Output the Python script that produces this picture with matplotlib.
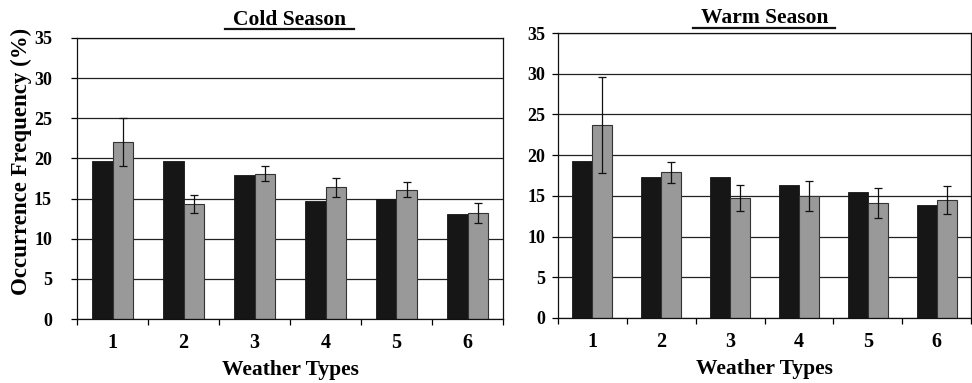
import numpy as np
import matplotlib
matplotlib.use('Agg')
import matplotlib.pyplot as plt

plt.rcParams['font.family'] = ['Liberation Serif', 'DejaVu Serif']
plt.rcParams['font.weight'] = 'bold'

# weather types and occurrence frequencies (%)
types = ['1', '2', '3', '4', '5', '6']

cold_black = [19.7, 19.7, 17.9, 14.7, 15.0, 13.1]
cold_gray = [22.0, 14.3, 18.1, 16.4, 16.1, 13.2]
cold_err = [3.0, 1.15, 0.9, 1.15, 0.95, 1.25]

warm_black = [19.3, 17.3, 17.3, 16.3, 15.5, 13.9]
warm_gray = [23.7, 17.9, 14.7, 15.0, 14.1, 14.5]
warm_err = [5.9, 1.3, 1.6, 1.85, 1.85, 1.75]

fig = plt.figure(figsize=(9.72, 3.83), dpi=100)
ax1 = fig.add_axes([77/972, 1-319/383, 426/972, 281/383])
ax2 = fig.add_axes([558/972, 1-318/383, 413/972, 285/383])

w = 0.29
x = np.arange(len(types))


def draw(ax, black, gray, err, title, ypad, ybase):
    ax.set_axisbelow(True)
    ax.bar(x - w/2, black, width=w, color='#161616', edgecolor='#161616', linewidth=0.6, zorder=2)
    ax.bar(x + w/2, gray, width=w, color='#999999', edgecolor='#333333', linewidth=0.8, zorder=2)
    ax.errorbar(x + w/2, gray, yerr=err, fmt='none', ecolor='#111111', elinewidth=0.9,
                capsize=3, capthick=0.9, zorder=3)
    ax.set_ylim(0, 35)
    ax.set_xlim(-0.5, 5.5)
    ax.set_yticks(range(0, 36, 5))
    ax.yaxis.grid(True, color='#222222', linewidth=0.9)
    ax.set_xticks(np.arange(-0.5, 6, 1))
    ax.set_xticklabels([])
    ax.set_xticks(x, minor=True)
    ax.set_xticklabels(types, minor=True, fontsize=14.5, fontweight='bold')
    ax.tick_params(axis='x', which='minor', length=0, pad=10)
    ax.tick_params(axis='x', which='major', direction='out', length=4, width=0.9)
    ax.tick_params(axis='y', direction='out', length=4, width=0.9, labelsize=13, pad=ypad)
    for lab in ax.get_yticklabels():
        lab.set_fontweight('bold')
    for s in ax.spines.values():
        s.set_linewidth(0.9)
        s.set_color('#111111')
    ax.set_xlabel('Weather Types', fontsize=15.5, fontweight='bold', labelpad=5)
    pos = ax.get_position()
    t = fig.text((pos.x0 + pos.x1) / 2, 1 - ybase/383, title, ha='center', va='baseline',
                 fontsize=15.5, fontweight='bold')
    return t


t1 = draw(ax1, cold_black, cold_gray, cold_err, 'Cold Season', 14, 25)
t2 = draw(ax2, warm_black, warm_gray, warm_err, 'Warm Season', 5, 23)
fig.text(21/972, 1 - 161/383, 'Occurrence Frequency (%)', rotation=90, ha='center', va='center',
         fontsize=16.5, fontweight='bold')

# underline the titles
fig.canvas.draw()
r = fig.canvas.get_renderer()
inv = fig.transFigure.inverted()
for t, yb in [(t1, 29), (t2, 28)]:
    bb = t.get_window_extent(r)
    (x0, _), (x1, _) = inv.transform([(bb.x0 - 8, 0), (bb.x1 + 7, 0)])
    y = 1 - yb/383
    fig.add_artist(plt.Line2D([x0, x1], [y, y], transform=fig.transFigure, color='#111111', linewidth=1.6))

plt.savefig('out.png', dpi=100)
